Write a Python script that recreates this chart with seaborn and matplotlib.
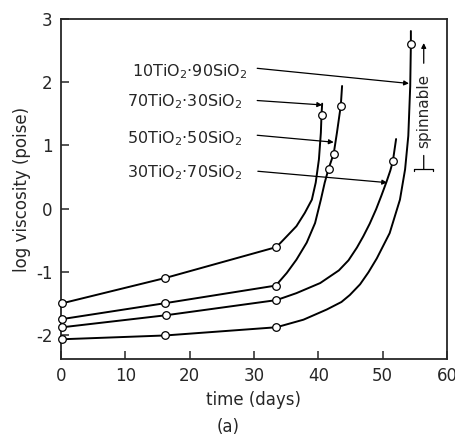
import pandas as pd
import matplotlib
matplotlib.use("Agg")
import matplotlib.pyplot as plt
import seaborn as sns

# measured points (open circles)
t70 = [0.2, 16.2, 33.5, 40.5]
v70 = [-1.50, -1.10, -0.61, 1.48]
t50 = [0.2, 16.1, 33.4, 41.6, 42.4, 43.5]
v50 = [-1.75, -1.50, -1.22, 0.63, 0.87, 1.63]
t30 = [0.2, 16.3, 33.5, 51.6]
v30 = [-1.88, -1.69, -1.45, 0.75]
t10 = [0.2, 16.2, 33.5, 54.4]
v10 = [-2.07, -2.01, -1.88, 2.60]

# hand drawn curves
c70_t = [0.2, 16.2, 33.5, 35.1, 36.6, 37.9, 39.0, 39.6, 40.1, 40.4, 40.5, 40.6]
c70_v = [-1.50, -1.10, -0.61, -0.44, -0.28, -0.07, 0.14, 0.41, 0.78, 1.20, 1.48, 1.66]
c50_t = [0.2, 16.1, 33.4, 35.1, 36.6, 38.2, 39.5, 40.4, 41.0, 41.6, 42.4, 42.9, 43.5, 43.7]
c50_v = [-1.75, -1.50, -1.22, -1.02, -0.81, -0.54, -0.23, 0.14, 0.41, 0.63, 0.87, 1.20, 1.63, 1.94]
c30_t = [0.2, 16.3, 33.5, 36.6, 40.3, 43.2, 44.7, 46.0, 47.0, 48.0, 49.0, 49.8, 50.6, 51.2, 51.6, 52.1]
c30_v = [-1.88, -1.69, -1.45, -1.34, -1.18, -0.98, -0.82, -0.62, -0.44, -0.24, -0.01, 0.20, 0.42, 0.60, 0.75, 1.10]
c10_t = [0.2, 16.2, 33.5, 37.7, 41.3, 43.6, 44.9, 46.5, 47.8, 49.1, 51.1, 52.7, 53.5, 54.0, 54.3, 54.4, 54.4]
c10_v = [-2.07, -2.01, -1.88, -1.76, -1.60, -1.48, -1.37, -1.20, -1.01, -0.79, -0.39, 0.14, 0.62, 1.15, 1.94, 2.60, 2.81]

labels = [r"10TiO$_2$$\cdot$90SiO$_2$", r"70TiO$_2$$\cdot$30SiO$_2$",
          r"50TiO$_2$$\cdot$50SiO$_2$", r"30TiO$_2$$\cdot$70SiO$_2$"]
label_xy = [(11.0, 2.17), (10.2, 1.70), (10.2, 1.11), (10.2, 0.57)]
arrow_from = [(30.5, 2.22), (30.5, 1.71), (30.5, 1.16), (30.6, 0.59)]
arrow_to = [(54.1, 1.98), (40.6, 1.64), (42.4, 1.05), (50.7, 0.41)]

spin_x = 56.4
spin_top, spin_bottom = 2.62, 0.62

sns.set_style("ticks")
plt.rcParams["font.family"] = ["DejaVu Sans"]
plt.rcParams["axes.unicode_minus"] = False

fig, ax = plt.subplots(figsize=(4.56, 4.43), dpi=100)
fig.subplots_adjust(left=0.134, right=0.980, top=0.957, bottom=0.190)

curves = [(c70_t, c70_v), (c50_t, c50_v), (c30_t, c30_v), (c10_t, c10_v)]
for ct, cv in curves:
    d = pd.DataFrame({"t": ct, "v": cv})
    sns.lineplot(data=d, x="t", y="v", sort=False, estimator=None,
                 color="black", lw=1.4, ax=ax,
                 solid_joinstyle="round", solid_capstyle="round")

pts = pd.DataFrame({"t": t70 + t50 + t30 + t10, "v": v70 + v50 + v30 + v10})
sns.scatterplot(data=pts, x="t", y="v", marker="o", s=30, facecolor="white",
                edgecolor="black", linewidth=0.9, zorder=5, clip_on=False, ax=ax)

for lab, xy, a, b in zip(labels, label_xy, arrow_from, arrow_to):
    ax.text(xy[0], xy[1], lab, fontsize=11.5, va="center", ha="left")
    ax.annotate("", xy=b, xytext=a,
                arrowprops=dict(arrowstyle="-|>", color="black", lw=0.9,
                                mutation_scale=7, shrinkA=0, shrinkB=0))

ax.text(spin_x, 1.54, "spinnable", rotation=90, fontsize=11,
        ha="center", va="center")
ax.annotate("", xy=(spin_x, spin_top), xytext=(spin_x, 2.30),
            arrowprops=dict(arrowstyle="-|>", color="black", lw=0.9,
                            mutation_scale=7, shrinkA=0, shrinkB=0))
ax.annotate("", xy=(spin_x, spin_bottom), xytext=(spin_x, 0.84),
            arrowprops=dict(arrowstyle="-[", color="black", lw=0.9,
                            mutation_scale=7, shrinkA=0, shrinkB=0))

ax.set_xlim(0, 60)
ax.set_ylim(-2.38, 3.0)
ax.set_xticks([0, 10, 20, 30, 40, 50, 60])
ax.set_yticks([-2, -1, 0, 1, 2, 3])
ax.tick_params(direction="in", length=6, width=1.1, labelsize=12, pad=6)
for s in ax.spines.values():
    s.set_linewidth(1.3)
    s.set_visible(True)

ax.set_xlabel("time (days)", fontsize=12, labelpad=4)
ax.set_ylabel("log viscosity (poise)", fontsize=12, labelpad=4)
fig.text(0.5, 0.035, "(a)", ha="center", va="center", fontsize=12)

fig.savefig("out.png", dpi=100)
